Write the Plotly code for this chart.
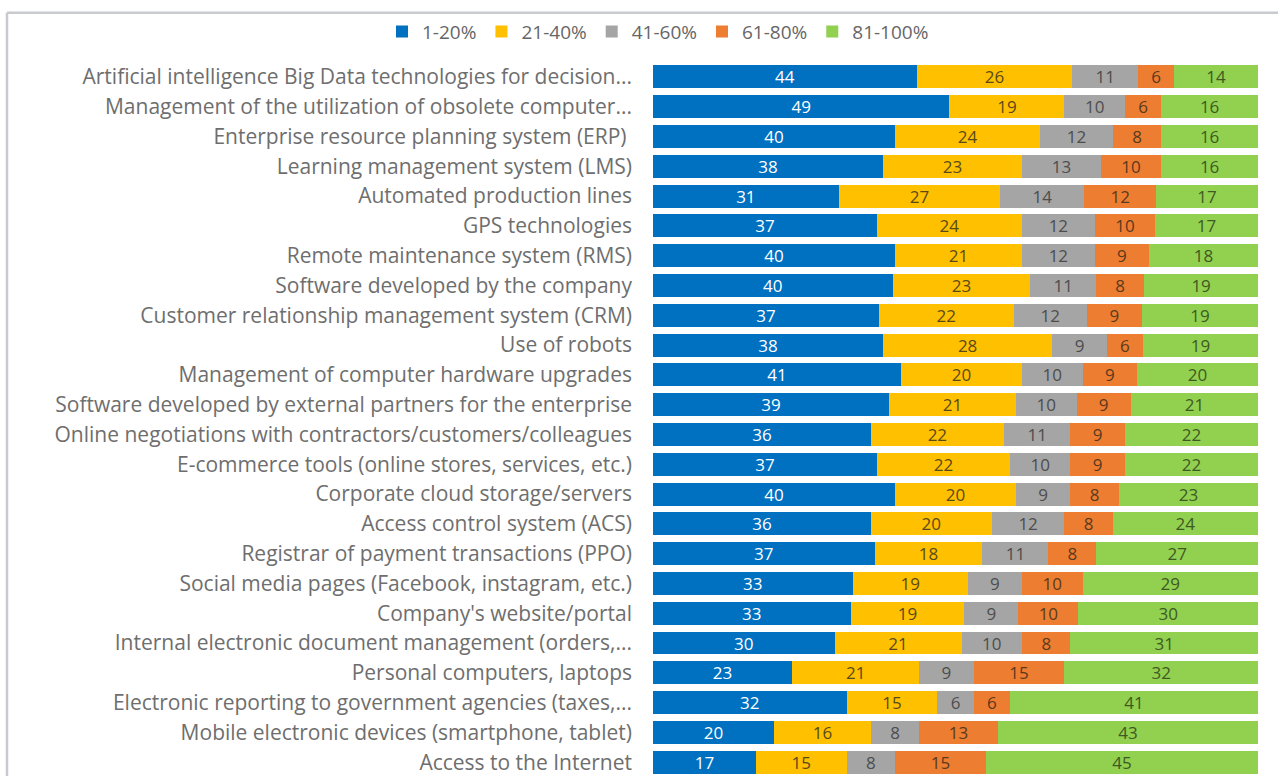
import plotly.graph_objects as go

# Technologies (top to bottom) and share of use by bucket
categories = [
    "Artificial intelligence Big Data technologies for decision...",
    "Management of the utilization of obsolete computer...",
    "Enterprise resource planning system (ERP) ",
    "Learning management system (LMS)",
    "Automated production lines",
    "GPS technologies",
    "Remote maintenance system (RMS)",
    "Software developed by the company",
    "Customer relationship management system (CRM)",
    "Use of robots",
    "Management of computer hardware upgrades",
    "Software developed by external partners for the enterprise",
    "Online negotiations with contractors/customers/colleagues",
    "E-commerce tools (online stores, services, etc.)",
    "Corporate cloud storage/servers",
    "Access control system (ACS)",
    "Registrar of payment transactions (PPO)",
    "Social media pages (Facebook, instagram, etc.)",
    "Company's website/portal",
    "Internal electronic document management (orders,...",
    "Personal computers, laptops",
    "Electronic reporting to government agencies (taxes,...",
    "Mobile electronic devices (smartphone, tablet)",
    "Access to the Internet",
]

series_names = ["1-20%", "21-40%", "41-60%", "61-80%", "81-100%"]

s_1_20 = [44, 49, 40, 38, 31, 37, 40, 40, 37, 38, 41, 39, 36, 37, 40, 36, 37, 33, 33, 30, 23, 32, 20, 17]
s_21_40 = [26, 19, 24, 23, 27, 24, 21, 23, 22, 28, 20, 21, 22, 22, 20, 20, 18, 19, 19, 21, 21, 15, 16, 15]
s_41_60 = [11, 10, 12, 13, 14, 12, 12, 11, 12, 9, 10, 10, 11, 10, 9, 12, 11, 9, 9, 10, 9, 6, 8, 8]
s_61_80 = [6, 6, 8, 10, 12, 10, 9, 8, 9, 6, 9, 9, 9, 9, 8, 8, 8, 10, 10, 8, 15, 6, 13, 15]
s_81_100 = [14, 16, 16, 16, 17, 17, 18, 19, 19, 19, 20, 21, 22, 22, 23, 24, 27, 29, 30, 31, 32, 41, 43, 45]

series_values = [s_1_20, s_21_40, s_41_60, s_61_80, s_81_100]
colors = ["#0070C0", "#FFC000", "#A5A5A5", "#ED7D31", "#92D050"]
label_colors = ["#FFFFFF", "#5A4A1A", "#4D4D4D", "#5A3A1E", "#3E5A22"]

FONT = "Open Sans"
W, H = 1278, 776
L, R = 653, 1258
T = 61.5
pitch = 29.9
bottom_index = -0.5 + (H - T) / pitch

fig = go.Figure()
for name, vals, col, lc in zip(series_names, series_values, colors, label_colors):
    fig.add_trace(go.Bar(
        y=categories,
        x=vals,
        name=name,
        orientation="h",
        marker=dict(color=col, line=dict(width=0)),
        text=vals,
        texttemplate="%{text}",
        textposition="inside",
        insidetextanchor="middle",
        textangle=0,
        textfont=dict(family=FONT, size=17, color=lc),
        constraintext="none",
    ))

# outer frame (top and left edges)
plot_w = R - L
plot_h = H - T
fx0 = (7 - L) / plot_w
fy1 = 1 + (T - 12) / plot_h
fig.add_shape(type="line", xref="paper", yref="paper", x0=fx0, x1=(W + 20 - L) / plot_w,
              y0=fy1, y1=fy1, line=dict(color="#C8CACD", width=2.5), layer="above")
fig.add_shape(type="line", xref="paper", yref="paper", x0=fx0, x1=fx0,
              y0=fy1, y1=-0.1, line=dict(color="#C8CACD", width=2.5), layer="above")

fig.update_layout(
    width=W, height=H,
    margin=dict(l=L, r=W - R, t=T, b=0, pad=0),
    barmode="stack",
    barnorm="percent",
    bargap=0.23,
    paper_bgcolor="white",
    plot_bgcolor="white",
    font=dict(family=FONT, color="#595959", size=17),
    showlegend=True,
    legend=dict(
        orientation="h",
        x=(658 - L) / plot_w, xanchor="center",
        y=1 + (T - 31) / plot_h, yanchor="middle",
        bgcolor="rgba(0,0,0,0)",
        font=dict(family=FONT, size=19, color="#666666"),
        itemwidth=30,
        traceorder="normal",
    ),
    xaxis=dict(range=[0, 100], visible=False, fixedrange=True),
    yaxis=dict(
        range=[bottom_index, -0.5],
        type="category",
        showgrid=False,
        zeroline=False,
        showline=False,
        ticks="",
        ticklabelstandoff=20,
        tickfont=dict(family=FONT, size=21, color="#6E6E6E"),
    ),
)

fig.write_html("out.html")
